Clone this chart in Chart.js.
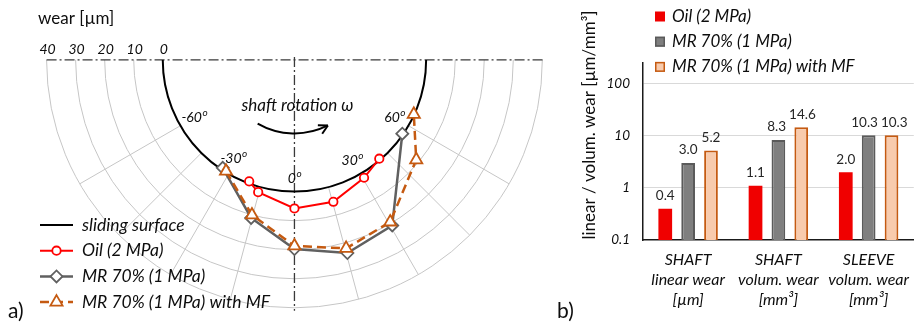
<!DOCTYPE html>
<html>
<head>
<meta charset="utf-8">
<script src="https://cdn.jsdelivr.net/npm/chart.js@4.4.0/dist/chart.umd.min.js"></script>
<style>
    html, body { margin: 0; padding: 0; background: #fff; overflow: hidden; }
    #cadre  { position: relative; width: 914px; height: 328px; overflow: hidden; }
    #usure  { position: absolute; left: 0; top: 0; }
    #volume { position: absolute; left: 555px; top: 0; }
</style>
</head>
<body>
<div id="cadre">
    <canvas id="usure" width="555" height="328"></canvas>
    <canvas id="volume" width="364" height="328"></canvas>
</div>
<script>
/**
 * a) Profil d'usure radiale le long de la surface de glissement (demi-cercle)
 * b) Usure linéaire / volumique, barres en échelle logarithmique.
 */

// --- a) usure [µm] en fonction de l'angle [°] ---
var ANGLES_OIL = [-20, -15, 0, 15, 30, 40];
var USURE_OIL  = [0.2, 2.9, 7.0, 6.4, 2.6, 0.1];
var ANGLES_MR  = [-33, -15, 0, 15, 30, 55];
var USURE_MR   = [0, 12.3, 21.3, 25.1, 22.0, 0];
var ANGLES_MF  = [-31, -15, 0, 15, 30, 50, 65];
var USURE_MF   = [0.4, 11.2, 20.2, 23.4, 20.6, 9.4, 0];
var TICKS_USURE  = [40, 30, 20, 10, 0];
var TICKS_ANGLE  = [-60, -30, 0, 30, 60];
var ANNEAUX      = [10, 20, 30, 40];
var RAYONS_ANGLE = [-60, -45, -30, -15, 15, 30, 45, 60];

// --- b) usure par zone ---
var CATEGORIES = [['SHAFT', 'linear wear', '[µm]'], ['SHAFT', 'volum. wear', '[mm³]'], ['SLEEVE', 'volum. wear', '[mm³]']];
var VAL_OIL = [0.4, 1.1, 2.0];
var VAL_MR  = [3.0, 8.3, 10.3];
var VAL_MF  = [5.2, 14.6, 10.3];
var TICKS_LOG = [0.1, 1, 10, 100];

var POLICE = 'Lato, "Open Sans", sans-serif';
var NOIR   = '#0d0d0d';
var R0     = 136 / 3;   // rayon de la surface de glissement, en µm d'échelle (3 px / µm)

// angle compté depuis la verticale basse, positif vers la droite
function polaire(angle, usure) {
    var a = angle * Math.PI / 180, r = R0 + usure;
    return { x: r * Math.sin(a), y: -r * Math.cos(a) };
}
function serie(angles, usures) {
    return angles.map(function (a, i) { return polaire(a, usures[i]); });
}

// Exposant "o" à la manière des étiquettes d'angle
function texteDegre(ctx, txt, x, y, taille) {
    ctx.font = 'italic ' + taille + 'px ' + POLICE;
    var w1 = ctx.measureText(txt).width;
    ctx.font = 'italic ' + Math.round(taille * 0.68) + 'px ' + POLICE;
    var w2 = ctx.measureText('o').width;
    var x0 = x - (w1 + w2) / 2;
    ctx.textAlign = 'left';
    ctx.textBaseline = 'middle';
    ctx.font = 'italic ' + taille + 'px ' + POLICE;
    ctx.fillText(txt, x0, y);
    ctx.font = 'italic ' + Math.round(taille * 0.68) + 'px ' + POLICE;
    ctx.fillText('o', x0 + w1 + 0.5, y - taille * 0.32);
}

var grillePolaire = {
    id: 'grillePolaire',
    beforeDatasetsDraw: function (chart) {
        var ctx = chart.ctx, sx = chart.scales.x, sy = chart.scales.y;
        var cx = sx.getPixelForValue(0), cy = sy.getPixelForValue(0);
        var k  = sx.getPixelForValue(1) - cx;
        function px(angle, r) {
            var a = angle * Math.PI / 180;
            return [cx + r * k * Math.sin(a), cy + r * k * Math.cos(a)];
        }
        var rMax = R0 + ANNEAUX[ANNEAUX.length - 1];
        ctx.save();

        // anneaux tous les 10 µm + rayons tous les 15°
        ctx.strokeStyle = '#c6c6c6';
        ctx.lineWidth = 1;
        ANNEAUX.forEach(function (u) {
            ctx.beginPath();
            ctx.arc(cx, cy, (R0 + u) * k, 0, Math.PI);
            ctx.stroke();
        });
        RAYONS_ANGLE.forEach(function (a) {
            var p1 = px(a, R0), p2 = px(a, rMax);
            ctx.beginPath();
            ctx.moveTo(p1[0], p1[1]);
            ctx.lineTo(p2[0], p2[1]);
            ctx.stroke();
        });

        // axes trait-point
        ctx.strokeStyle = '#3a3a3a';
        ctx.lineWidth = 1.3;
        ctx.setLineDash([10, 3, 2, 3]);
        ctx.beginPath();
        ctx.moveTo(cx - rMax * k, cy);
        ctx.lineTo(cx + rMax * k + 2, cy);
        ctx.stroke();
        ctx.beginPath();
        ctx.moveTo(cx, cy - 3);
        ctx.lineTo(cx, cy + (rMax + 1) * k);
        ctx.stroke();
        ctx.setLineDash([]);

        // surface de glissement
        ctx.strokeStyle = '#000';
        ctx.lineWidth = 2;
        ctx.beginPath();
        ctx.arc(cx, cy, R0 * k, 0, Math.PI);
        ctx.stroke();

        // flèche de rotation
        var rF = 76 / 3, aDeb = -30, aFin = 27;
        ctx.lineWidth = 2;
        ctx.beginPath();
        ctx.arc(cx, cy, rF * k, (90 - aDeb) * Math.PI / 180, (90 - aFin) * Math.PI / 180, true);
        ctx.stroke();
        var pt = px(aFin, rF), t = aFin * Math.PI / 180;
        var dir = Math.atan2(-Math.sin(t), Math.cos(t));
        [0.5, -0.5].forEach(function (d) {
            ctx.beginPath();
            ctx.moveTo(pt[0], pt[1]);
            ctx.lineTo(pt[0] - 10 * Math.cos(dir + d), pt[1] - 10 * Math.sin(dir + d));
            ctx.stroke();
        });

        // textes
        ctx.fillStyle = NOIR;
        ctx.font = 'italic 17px ' + POLICE;
        ctx.textAlign = 'center';
        ctx.textBaseline = 'middle';
        ctx.fillText('shaft rotation ω', cx + 3, cy + 46);

        ctx.font = 'italic 14px ' + POLICE;
        ctx.textBaseline = 'alphabetic';
        TICKS_USURE.forEach(function (u) {
            ctx.fillText(String(u), sx.getPixelForValue(-(R0 + u)) + 1, cy - 6);
        });
        ctx.font = '17px ' + POLICE;
        ctx.textAlign = 'left';
        ctx.fillText('wear [µm]', 38, 24);

        TICKS_ANGLE.forEach(function (a) {
            var p = px(a, R0 - 5.5);
            texteDegre(ctx, String(a), p[0] - (a === -30 ? 3 : 0), p[1] + (a === 0 ? 3 : (a === -30 ? -2 : 0)), 14);
        });
        ctx.restore();
    },
    afterDraw: function (chart) {
        var ctx = chart.ctx;
        ctx.save();
        // légende en bas à gauche
        chart.data.datasets.forEach(function (ds, i) {
            var y = 225 + i * 25.7;
            ctx.strokeStyle = ds.borderColor;
            ctx.lineWidth = ds.borderWidth;
            ctx.setLineDash(ds.borderDash || []);
            ctx.beginPath();
            ctx.moveTo(40, y);
            ctx.lineTo(73, y);
            ctx.stroke();
            ctx.setLineDash([]);
            if (ds.pointRadius) {
                ctx.fillStyle = ds.pointBackgroundColor;
                ctx.strokeStyle = ds.pointBorderColor;
                ctx.lineWidth = ds.pointBorderWidth;
                Chart.helpers.drawPoint(ctx, {
                    pointStyle: ds.pointStyle, radius: ds.pointRadius,
                    borderWidth: ds.pointBorderWidth, rotation: 0
                }, 56.5, y);
            }
            ctx.fillStyle = NOIR;
            ctx.font = 'italic 17.5px ' + POLICE;
            ctx.textAlign = 'left';
            ctx.textBaseline = 'middle';
            ctx.fillText(ds.label, 82, y);
        });
        ctx.font = '21px ' + POLICE;
        ctx.textBaseline = 'alphabetic';
        ctx.fillText('a)', 8, 318);
        ctx.restore();
    }
};

new Chart(document.getElementById('usure'), {
    type: 'scatter',
    data: {
        datasets: [{
            label: 'sliding surface',
            data: [],
            borderColor: '#000',
            borderWidth: 2,
            pointRadius: 0
        }, {
            label: 'Oil (2 MPa)',
            data: serie(ANGLES_OIL, USURE_OIL),
            showLine: true,
            order: 3,
            borderColor: '#ff0000',
            borderWidth: 2,
            pointStyle: 'circle',
            pointRadius: 4.2,
            pointBorderWidth: 1.8,
            pointBackgroundColor: '#fff',
            pointBorderColor: '#ff0000'
        }, {
            label: 'MR 70% (1 MPa)',
            data: serie(ANGLES_MR, USURE_MR),
            showLine: true,
            order: 2,
            borderColor: '#606060',
            borderWidth: 2.5,
            pointStyle: 'rectRot',
            pointRadius: 6,
            pointBorderWidth: 1.8,
            pointBackgroundColor: '#fff',
            pointBorderColor: '#606060'
        }, {
            label: 'MR 70% (1 MPa) with MF',
            data: serie(ANGLES_MF, USURE_MF),
            showLine: true,
            order: 1,
            borderColor: '#c55a11',
            borderWidth: 2.5,
            borderDash: [9, 5],
            pointStyle: 'triangle',
            pointRadius: 7,
            pointBorderWidth: 1.8,
            pointBackgroundColor: '#fff',
            pointBorderColor: '#c55a11'
        }]
    },
    options: {
        responsive: false,
        animation: false,
        layout: { padding: 0 },
        elements: { line: { tension: 0 } },
        scales: {
            x: { type: 'linear', display: false, min: -295 / 3, max: 260 / 3 },
            y: { type: 'linear', display: false, min: -274 / 3, max: 18 }
        },
        plugins: { legend: { display: false }, tooltip: { enabled: false } }
    },
    plugins: [grillePolaire]
});

// --- b) ---
var habillageBarres = {
    id: 'habillageBarres',
    afterDatasetsDraw: function (chart) {
        var ctx = chart.ctx;
        ctx.save();
        ctx.font = '13.5px ' + POLICE;
        ctx.fillStyle = '#262626';
        ctx.textAlign = 'center';
        ctx.textBaseline = 'middle';
        // valeurs au-dessus des barres, écartées si elles se chevauchent
        CATEGORIES.forEach(function (c, j) {
            var etiq = chart.data.datasets.map(function (ds, i) {
                var bar = chart.getDatasetMeta(i).data[j];
                var txt = ds.data[j].toFixed(1);
                return { txt: txt, x: bar.x, y: bar.y - 13, w: ctx.measureText(txt).width };
            });
            for (var i = 1; i < etiq.length; i++) {
                var p = etiq[i - 1], e = etiq[i];
                var chev = (p.x + p.w / 2 + 3) - (e.x - e.w / 2);
                if (Math.abs(p.y - e.y) < 14 && chev > 0) {
                    p.x -= chev * 0.6;
                    e.x += chev * 0.4;
                }
            }
            etiq.forEach(function (e) { ctx.fillText(e.txt, e.x, e.y); });
        });
        ctx.restore();
    },
    afterDraw: function (chart) {
        var ctx = chart.ctx;
        ctx.save();
        // légende en haut
        chart.data.datasets.forEach(function (ds, i) {
            var y = 16.5 + i * 25.2;
            ctx.fillStyle = ds.backgroundColor;
            ctx.fillRect(100, y - 5, 10, 10);
            if (ds.borderWidth) {
                ctx.strokeStyle = ds.borderColor;
                ctx.lineWidth = 1.5;
                ctx.strokeRect(100.75, y - 4.25, 8.5, 8.5);
            }
            ctx.fillStyle = NOIR;
            ctx.font = 'italic 17px ' + POLICE;
            ctx.textAlign = 'left';
            ctx.textBaseline = 'middle';
            ctx.fillText(ds.label, 117, y);
        });
        // titre de l'axe des ordonnées
        ctx.translate(35, 125);
        ctx.rotate(-Math.PI / 2);
        ctx.font = '17px ' + POLICE;
        ctx.textAlign = 'center';
        ctx.fillText('linear / volum. wear [µm/mm³]', 0, 0);
        ctx.setTransform(1, 0, 0, 1, 0, 0);
        ctx.font = '21px ' + POLICE;
        ctx.textAlign = 'left';
        ctx.textBaseline = 'alphabetic';
        ctx.fillText('b)', 2, 318);
        ctx.restore();
    }
};

new Chart(document.getElementById('volume'), {
    type: 'bar',
    data: {
        labels: CATEGORIES,
        datasets: [{
            label: 'Oil (2 MPa)',
            data: VAL_OIL,
            backgroundColor: '#f00000',
            borderColor: '#f00000',
            borderWidth: 0
        }, {
            label: 'MR 70% (1 MPa)',
            data: VAL_MR,
            backgroundColor: '#7f7f7f',
            borderColor: '#5a5a5a',
            borderWidth: 2
        }, {
            label: 'MR 70% (1 MPa) with MF',
            data: VAL_MF,
            backgroundColor: '#f8cbad',
            borderColor: '#c55a11',
            borderWidth: 2
        }]
    },
    options: {
        responsive: false,
        animation: false,
        layout: { padding: { top: 63, right: 0, bottom: 0, left: 0 } },
        datasets: { bar: { barPercentage: 0.6, categoryPercentage: 0.76 } },
        scales: {
            x: {
                grid: { display: false, drawTicks: false },
                border: { color: '#1a1a1a', width: 1.5 },
                ticks: {
                    color: NOIR,
                    padding: 10,
                    maxRotation: 0,
                    autoSkip: false,
                    font: { family: POLICE, style: 'italic', size: 16, lineHeight: 1.25 }
                },
                afterFit: function (s) { s.height = 88; }
            },
            y: {
                type: 'logarithmic',
                min: 0.1,
                max: 250,
                grid: {
                    drawTicks: false,
                    color: function (c) { return c.tick && c.tick.value === 0.1 ? 'rgba(0,0,0,0)' : '#d9d9d9'; }
                },
                border: { color: '#1a1a1a', width: 1.5 },
                ticks: {
                    color: NOIR,
                    padding: 13,
                    font: { family: POLICE, style: 'italic', size: 13.5 },
                    callback: function (v) { return String(v); }
                },
                afterBuildTicks: function (s) {
                    s.ticks = TICKS_LOG.map(function (v) { return { value: v }; });
                },
                afterFit: function (s) { s.width = 88; }
            }
        },
        plugins: { legend: { display: false }, tooltip: { enabled: false } }
    },
    plugins: [habillageBarres]
});
</script>
</body>
</html>
